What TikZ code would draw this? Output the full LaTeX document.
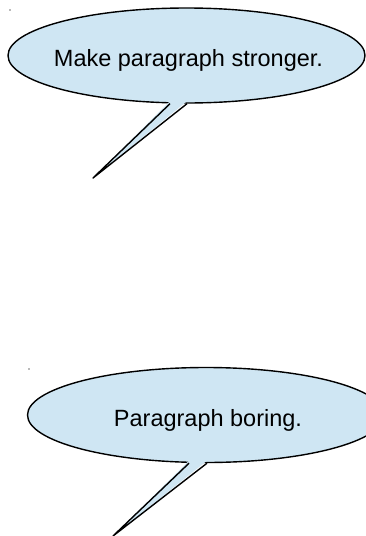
\documentclass[tikz,border=0pt]{standalone}
\usepackage{fontspec}
\setmainfont{Liberation Sans}
\usepackage{xcolor}
\usepackage{tikz}
\usetikzlibrary{shapes.geometric}
\definecolor{bubblefill}{RGB}{207,230,243}
\tikzset{
  bubble/.style = {ellipse, draw=black, fill=bubblefill, line width=1.4pt,
    minimum width=357pt, minimum height=95pt, inner sep=0pt},% the speech balloon
  saying/.style = {anchor=base, inner sep=0pt,
    font=\fontsize{23.5}{28}\selectfont},% text in the balloon
  tail/.style = {draw=black, line width=1.4pt, line join=round},% balloon tail
  speck/.style = {circle, fill=black!55, inner sep=0pt, minimum size=1.6pt}
}
\begin{document}
\begin{tikzpicture}[x=1pt,y=-1pt]
\clip (0,0) rectangle (366,536);
% top balloon
\node [speck] (speckA) at (10,10) {};
\node [bubble] (stronger) at (186.5,55.5) {};
\node [saying] (strongertext) at ([xshift=2pt,yshift=-11pt]stronger.center)
  {Make paragraph stronger.};
\coordinate (tipA) at (93,178);
\fill [bubblefill] ([shift={(-16.5,-2.5)}]stronger.south) -- (tipA)
  -- ([shift={(0.5,-2.5)}]stronger.south) -- cycle;
\draw [tail] ([xshift=-16.5pt]stronger.south) -- (tipA)
  -- ([xshift=0.5pt]stronger.south);
% bottom balloon
\node [speck] (speckB) at (29,369) {};
\node [bubble] (boring) at (206,415) {};
\node [saying] (boringtext) at ([xshift=2pt,yshift=-11pt]boring.center)
  {Paragraph boring.};
\coordinate (tipB) at (113,536);
\fill [bubblefill] ([shift={(-17,-2.5)}]boring.south) -- (tipB)
  -- ([shift={(1,-2.5)}]boring.south) -- cycle;
\draw [tail] ([xshift=-17pt]boring.south) -- (tipB)
  -- ([xshift=1pt]boring.south);
\end{tikzpicture}
\end{document}
